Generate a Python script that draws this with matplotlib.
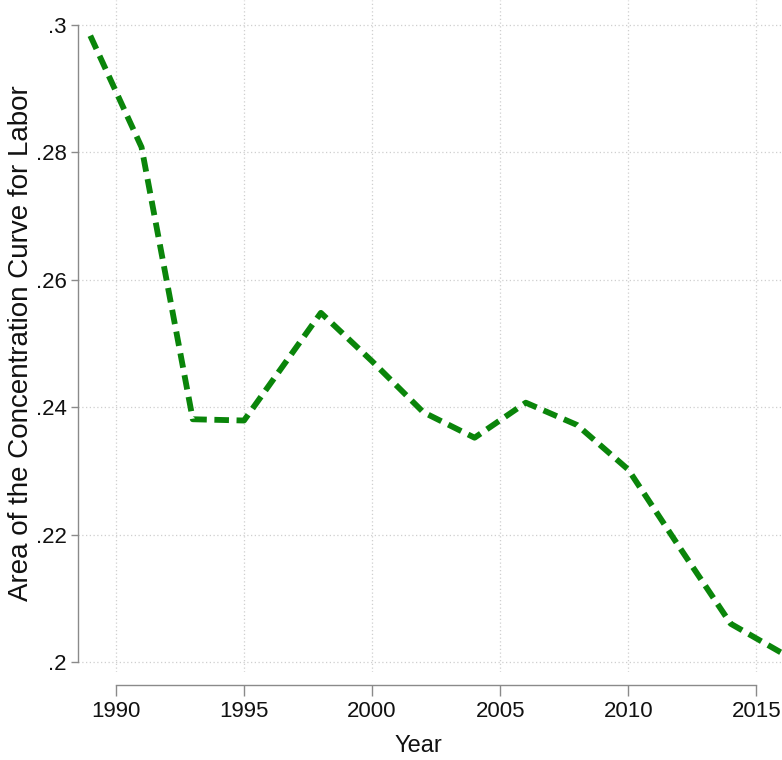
import matplotlib
matplotlib.use("Agg")
import matplotlib.pyplot as plt

# area of the concentration curve for labor, by survey year
years = [1989, 1991, 1993, 1995, 1998, 2000, 2002, 2004, 2006, 2008, 2010, 2012, 2014, 2016]
area = [0.2983, 0.2808, 0.2381, 0.2379, 0.2548, 0.2472, 0.2392, 0.2352, 0.2407, 0.2372,
        0.2302, 0.2180, 0.2060, 0.2014]

xticks = [1990, 1995, 2000, 2005, 2010, 2015]
yticks = [0.20, 0.22, 0.24, 0.26, 0.28, 0.30]
ytick_labels = [".2", ".22", ".24", ".26", ".28", ".3"]

sans = ["Liberation Sans Narrow", "Liberation Sans", "DejaVu Sans"]

fig = plt.figure(figsize=(7.82, 7.60), dpi=100)
ax = fig.add_axes([78 / 782, 1 - 672 / 760, (782 - 78) / 782, 672 / 760])

ax.plot(years, area, color="#0a850a", lw=4.2, dashes=(2.5, 1.3),
        dash_capstyle="butt", solid_joinstyle="miter", clip_on=True, zorder=3)

ax.set_xlim(1988.52, 2016.0)
ax.set_ylim(0.19843, 0.3039)

ax.set_xticks(xticks)
ax.set_yticks(yticks)
ax.set_yticklabels(ytick_labels)
ax.grid(True, color="#cfcfcf", lw=0.9, linestyle=(0, (1, 2)))
ax.set_axisbelow(True)

for s in ["top", "right"]:
    ax.spines[s].set_visible(False)
for s in ["left", "bottom"]:
    ax.spines[s].set_color("#8a8a8a")
    ax.spines[s].set_linewidth(1.0)
ax.spines["left"].set_bounds(0.20, 0.30)
ax.spines["bottom"].set_bounds(1990, 2015)
ax.spines["bottom"].set_position(("outward", 9))

ax.tick_params(axis="y", length=5, width=1.0, color="#8a8a8a", pad=3)
ax.tick_params(axis="x", length=8, width=1.0, color="#8a8a8a", pad=4)
for lab in ax.get_xticklabels() + ax.get_yticklabels():
    lab.set_fontfamily(sans)
    lab.set_fontsize(16)
    lab.set_color("#111111")

ax.set_ylabel("Area of the Concentration Curve for Labor", fontsize=20,
              family=["Liberation Sans", "DejaVu Sans"], color="#111111")
ax.yaxis.set_label_coords(-44 / 704, 0.5 - 7 / 672)
ax.set_xlabel("Year", fontsize=17, family=sans, color="#111111")
ax.xaxis.set_label_coords((418 - 78) / 704, -63 / 672)

fig.savefig("out.png", dpi=100, facecolor="white")
